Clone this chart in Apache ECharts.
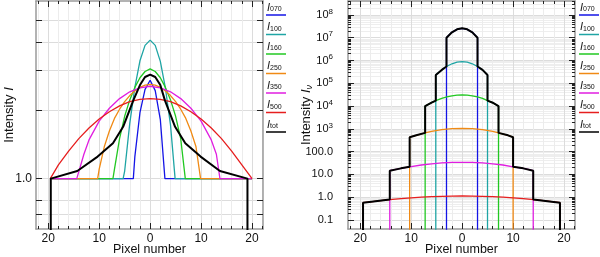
<!DOCTYPE html>
<html><head><meta charset="utf-8">
<script src="https://cdn.jsdelivr.net/npm/echarts@6/dist/echarts.min.js"></script>
<style>html,body{margin:0;padding:0;background:#fff}#c{width:600px;height:257px}</style>
</head><body><div id="c"></div><script>
// ---------- labels / ticks ----------
const bandNames = ['070','100','160','250','350','500','tot'];
const bandColors = ['#1414e6','#1fa5a5','#22c822','#f08a14','#e01ee0','#e61e1e','#000000'];
const pixelMajor = [-20,-10,0,10,20];
const pixelMinor = [-22,-18,-16,-14,-12,-8,-6,-4,-2,2,4,6,8,12,14,16,18,22];
const leftYMajor = [0.7,0.8,1,2,3,4,5];
const leftYLabeled = [1];
const rightYMajor = [0.1,1,10,100,1000,1e4,1e5,1e6,1e7,1e8];
const rightYMinorMult = [2,3,4,5,6,7,8,9];

// ---------- left panel (normalised intensity I) ----------
const L070x = [-19.6,-3.3,-3,-2,-1,0,1,2,2.9,20];
const L070y = [1,1,1.25,1.95,2.47,2.71,2.44,1.82,1,1];
const L100x = [-19.6,-5.3,-5,-4,-3,-2,-1,0,1,2,3,4,4.9,20];
const L100y = [1,1,1.08,1.75,2.52,3.3,3.86,4.07,3.86,3.28,2.5,1.72,1,1];
const L160x = [-19.6,-7.3,-7,-6,-5,-4,-3,-2,-1,0,1,2,3,4,5,6,6.9,20];
const L160y = [1,1,1.1,1.5,1.88,2.22,2.52,2.78,2.96,3.04,2.96,2.78,2.52,2.22,1.88,1.5,1,1];
const L250x = [-19.6,-10.3,-10,-9,-8,-7,-6,-5,-4,-3,-2,-1,0,1,2,3,4,5,6,7,8,9,9.9,20];
const L250y = [1,1,1.1,1.38,1.62,1.84,2.02,2.18,2.32,2.43,2.52,2.58,2.6,2.58,2.52,2.43,2.32,2.18,2.02,1.84,1.62,1.38,1,1];
const L350x = [-19.6,-14.4,-13,-12,-10,-8,-6,-4,-2,0,2,4,6,8,10,12,13,13.7,20];
const L350y = [1,1,1.28,1.48,1.79,2.04,2.25,2.41,2.51,2.55,2.51,2.41,2.25,2.04,1.79,1.48,1.28,1,1];
const L500x = [-19.6,-18,-16,-14,-12,-10,-8,-6,-4,-2,0,2,4,6,8,10,12,14,16,18,20];
const L500y = [1,1.15,1.32,1.5,1.67,1.83,1.97,2.09,2.18,2.23,2.25,2.23,2.18,2.09,1.97,1.83,1.67,1.5,1.32,1.15,1];
const Ltotx = [-19.5,-19.5,-14.3,-10.3,-7.3,-5.3,-3.3,-2,-1,0,1,2,2.9,4.9,6.9,9.9,13.7,19.1,19.1];
const Ltoty = [0.3,1,1.08,1.25,1.43,1.69,2.21,2.58,2.8,2.87,2.8,2.58,2.21,1.69,1.43,1.25,1.08,1,0.3];

// ---------- right panel (intensity I_nu, log) ----------
const R070x = [-3.07,-3.07,-2,-1,0,1,2,3.02,3.02];
const R070y = [0.01,1.0e7,1.73e7,2.34e7,2.6e7,2.34e7,1.73e7,1.0e7,0.01];
const R100x = [-5.17,-5.17,-4,-3.07,-2,-1,0,1,2,3.02,4,4.98,4.98];
const R100y = [0.01,2.3e5,3.87e5,5.45e5,7.2e5,8.45e5,8.9e5,8.45e5,7.2e5,5.45e5,3.87e5,2.3e5,0.01];
const R160x = [-7.26,-7.26,-6,-5.17,-4,-3,-2,-1,0,1,2,3,4,4.98,6,7.14,7.14];
const R160y = [0.01,1.0e4,1.41e4,1.73e4,2.18e4,2.54e4,2.83e4,3.02e4,3.09e4,3.02e4,2.83e4,2.54e4,2.18e4,1.73e4,1.41e4,1.0e4,0.01];
const R250x = [-10.3,-10.3,-9,-7.26,-6,-4,-2,0,2,4,6,7.14,9,10,10];
const R250y = [0.01,430,521,667,773,920,1023,1060,1023,920,773,667,521,430,0.01];
const R350x = [-14.2,-14.2,-13,-12,-10.3,-8,-6,-4,-2,0,2,4,6,8,10,12,13,13.95,13.95];
const R350y = [0.01,14.6,16.6,18.5,21.7,26,29.2,31.9,33.6,34.1,33.6,31.9,29.2,26,21.7,18.5,16.6,14.6,0.01];
const R500x = [-19.45,-19.45,-18,-16,-14.2,-12,-10,-8,-6,-4,-2,0,2,4,6,8,10,12,14,16,18,19.2,19.2];
const R500y = [0.01,0.575,0.63,0.71,0.79,0.87,0.94,1.01,1.06,1.10,1.12,1.13,1.12,1.10,1.06,1.01,0.94,0.87,0.79,0.71,0.63,0.575,0.01];
const Rtotx = [-19.45,-19.45,-14.2,-14.2,-12,-10.3,-10.3,-9,-7.26,-7.26,-6,-5.17,-5.17,-4,-3.07,-3.07,-2,-1,0,1,2,3.02,3.02,4,4.98,4.98,6,7.14,7.14,9,10,10,12,13.95,13.95,19.2,19.2];
const Rtoty = [0.01,0.575,0.79,14.6,18.5,21.7,430,521,667,1.0e4,1.41e4,1.73e4,2.3e5,3.87e5,5.45e5,1.0e7,1.73e7,2.34e7,2.6e7,2.34e7,1.73e7,1.0e7,5.45e5,3.87e5,2.3e5,1.73e4,1.41e4,1.0e4,667,521,430,21.7,18.5,14.6,0.79,0.575,0.01];

const leftSets = [[L070x,L070y],[L100x,L100y],[L160x,L160y],[L250x,L250y],[L350x,L350y],[L500x,L500y],[Ltotx,Ltoty]];
const rightSets = [[R070x,R070y],[R100x,R100y],[R160x,R160y],[R250x,R250y],[R350x,R350y],[R500x,R500y],[Rtotx,Rtoty]];

const FONT = 'Liberation Sans';
const X_MIN = -22.4, X_MAX = 22.15;
const rightYMinor = [];
rightYMajor.forEach(d => rightYMinorMult.forEach(m => rightYMinor.push(+(d*m).toPrecision(3))));

const grids = [
  {left:36, top:1, width:227, height:228, outerBoundsMode:'none', containLabel:false},
  {left:348, top:1, width:227, height:228, outerBoundsMode:'none', containLabel:false}
];

function xAxes(g){
  const base = {gridIndex:g, type:'value', min:X_MIN, max:X_MAX};
  return [
    Object.assign({}, base, {position:'bottom',
      axisLine:{show:true,onZero:false,lineStyle:{color:'#9a9a9a',width:1.5}},
      axisTick:{show:true,inside:true,length:6,customValues:pixelMajor,lineStyle:{color:'#222',width:1}},
      axisLabel:{show:true,customValues:pixelMajor,formatter:v=>String(Math.abs(v)),margin:4,fontSize:12,fontFamily:FONT,color:'#111'},
      splitLine:{show:true,lineStyle:{color:'#dcdcdc',width:1}},
      name:'Pixel number',nameLocation:'middle',nameGap:14,nameMoveOverlap:false,
      nameTextStyle:{fontSize:12.5,fontFamily:FONT,color:'#111',verticalAlign:'top'}}),
    Object.assign({}, base, {position:'bottom',
      axisLine:{show:false,onZero:false},
      axisTick:{show:true,inside:true,length:3,customValues:pixelMinor,lineStyle:{color:'#222',width:1}},
      axisLabel:{show:false},
      splitLine:{show:true,lineStyle:{color:'#ececec',width:1}}}),
    Object.assign({}, base, {position:'top',
      axisLine:{show:true,onZero:false,lineStyle:{color:'#9a9a9a',width:1.5}},
      axisTick:{show:true,inside:true,length:6,customValues:pixelMajor,lineStyle:{color:'#222',width:1}},
      axisLabel:{show:false},splitLine:{show:false}}),
    Object.assign({}, base, {position:'top',
      axisLine:{show:false,onZero:false},
      axisTick:{show:true,inside:true,length:3,customValues:pixelMinor,lineStyle:{color:'#222',width:1}},
      axisLabel:{show:false},splitLine:{show:false}})
  ];
}

function yAxes(g, cfg){
  const base = {gridIndex:g, type:'log', logBase:10, min:cfg.min, max:cfg.max};
  const arr = [
    Object.assign({}, base, {position:'left',
      axisLine:{show:true,onZero:false,lineStyle:{color:'#9a9a9a',width:1.5}},
      axisTick:{show:true,inside:true,length:6,customValues:cfg.major,lineStyle:{color:'#222',width:1}},
      axisLabel:{show:true,customValues:cfg.labeled,formatter:cfg.fmt,margin:cfg.margin,fontSize:cfg.fontSize,fontFamily:FONT,color:'#111',
        rich:{sup:{fontSize:8,fontFamily:FONT,color:'#111',padding:[0,0,7,0]}}},
      splitLine:{show:true,lineStyle:{color:'#dcdcdc',width:1}},
      name:cfg.name,nameLocation:'middle',nameGap:cfg.nameGap,nameMoveOverlap:false,
      nameTextStyle:{fontSize:13,fontFamily:FONT,color:'#111',
        rich:{i:{fontStyle:'italic',fontSize:13,fontFamily:FONT,color:'#111'},s:{fontStyle:'italic',fontSize:9,fontFamily:FONT,color:'#111',padding:[6,0,0,0]}}}}),
    Object.assign({}, base, {position:'right',
      axisLine:{show:true,onZero:false,lineStyle:{color:'#9a9a9a',width:1.5}},
      axisTick:{show:true,inside:true,length:6,customValues:cfg.major,lineStyle:{color:'#222',width:1}},
      axisLabel:{show:false},splitLine:{show:false}})
  ];
  if (cfg.minor){
    arr.push(Object.assign({}, base, {position:'left',axisLine:{show:false,onZero:false},
      axisTick:{show:true,inside:true,length:3,customValues:cfg.minor,lineStyle:{color:'#222',width:1}},
      axisLabel:{show:false},splitLine:{show:true,lineStyle:{color:'#eeeeee',width:1}}}));
    arr.push(Object.assign({}, base, {position:'right',axisLine:{show:false,onZero:false},
      axisTick:{show:true,inside:true,length:3,customValues:cfg.minor,lineStyle:{color:'#222',width:1}},
      axisLabel:{show:false},splitLine:{show:false}}));
  }
  return arr;
}

const xAxis = xAxes(0).concat(xAxes(1));
const leftY = yAxes(0, {min:0.6,max:6.05,major:leftYMajor,labeled:leftYLabeled,fmt:v=>Number(v).toFixed(1),margin:4,fontSize:12,
  name:'Intensity {i|I}',nameGap:20});
const rightY = yAxes(1, {min:0.0403,max:4.1e8,major:rightYMajor,minor:rightYMinor,labeled:rightYMajor,margin:15,fontSize:11,
  fmt:v=>{const e=Math.round(Math.log10(v)); return e>=3 ? '10{sup|'+e+'}' : Number(v).toFixed(1);},
  name:'Intensity {i|I}{s|ν}',nameGap:34});
const yAxis = leftY.concat(rightY);
const rightYIndex = leftY.length;

const series = [];
leftSets.forEach((s,i)=>{
  series.push({type:'line',xAxisIndex:0,yAxisIndex:0,data:s[0].map((x,k)=>[x,s[1][k]]),
    showSymbol:false,symbol:'none',smooth:false,clip:true,animation:false,
    lineStyle:{color:bandColors[i],width:i===6?2:1.3},z:2+i});
});
rightSets.forEach((s,i)=>{
  series.push({type:'line',xAxisIndex:4,yAxisIndex:rightYIndex,data:s[0].map((x,k)=>[x,s[1][k]]),
    showSymbol:false,symbol:'none',smooth:false,clip:true,animation:false,
    lineStyle:{color:bandColors[i],width:i===6?2:1.3},z:2+i});
});

const graphic = [];
[266, 579].forEach(x0=>{
  bandNames.forEach((n,i)=>{
    const yl = 15 + i*19.5;
    graphic.push({type:'text',left:x0+1,top:yl-13,silent:true,
      style:{text:'{i|I}{s|'+n+'}',rich:{i:{fontStyle:'italic',fontSize:11,fontFamily:FONT,fill:'#111'},
        s:{fontSize:7,fontFamily:FONT,fill:'#111',padding:[4,0,0,0]}}}});
    graphic.push({type:'line',silent:true,shape:{x1:x0,y1:yl,x2:x0+20,y2:yl},style:{stroke:bandColors[i],lineWidth:1.5}});
  });
});

const chart = echarts.init(document.getElementById('c'),null,{renderer:'canvas'});
chart.setOption({animation:false,backgroundColor:'#fff',grid:grids,xAxis:xAxis,yAxis:yAxis,series:series,graphic:graphic});
</script></body></html>
